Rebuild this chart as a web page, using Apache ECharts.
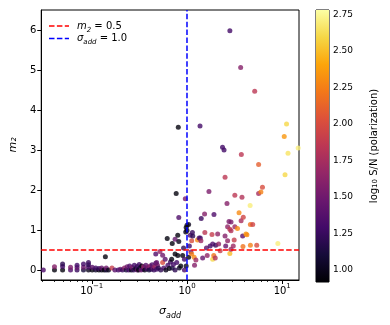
<!DOCTYPE html>
<html>
<head>
<meta charset="utf-8">
<script src="https://cdn.jsdelivr.net/npm/echarts@6/dist/echarts.min.js"></script>
<style>
html, body { margin: 0; padding: 0; background: #fff; }
#main { width: 390px; height: 325px; }
</style>
</head>
<body>
<div id="main"></div>
<script>
// 每个点: [sigma_add, m2, log10 S/N]
var lowPoints = [
    [0.031, 0.0, 1.35],
    [0.0406, 0.0, 0.95], [0.0406, 0.08, 1.6],
    [0.0494, 0.0, 0.95], [0.0494, 0.09, 1.3], [0.0494, 0.15, 1.2],
    [0.0599, 0.0, 1.35], [0.0599, 0.07, 1.55],
    [0.0701, 0.0, 1.25], [0.0701, 0.06, 1.45], [0.0701, 0.12, 1.3],
    [0.0819, 0.0, 1.1], [0.0819, 0.07, 1.5], [0.0819, 0.15, 1.3],
    [0.0924, 0.0, 1.0], [0.0924, 0.07, 1.35], [0.0924, 0.13, 1.2], [0.0924, 0.19, 1.25],
    [0.101, 0.0, 0.95], [0.101, 0.07, 1.4],
    [0.11, 0.0, 1.05], [0.11, 0.05, 1.3],
    [0.119, 0.0, 0.95], [0.119, 0.04, 1.25],
    [0.127, 0.0, 1.0], [0.127, 0.05, 1.45],
    [0.135, 0.0, 0.95], [0.139, 0.33, 0.95],
    [0.142, 0.0, 1.1], [0.142, 0.05, 1.5],
    [0.15, 0.0, 1.0], [0.163, 0.05, 1.9]
];
var midPoints = [
    [0.175, 0.0, 1.4], [0.19, 0.0, 1.3], [0.2, 0.02, 1.45], [0.21, 0.0, 1.25],
    [0.22, 0.05, 1.6], [0.23, 0.0, 1.1], [0.235, 0.08, 1.5], [0.245, 0.0, 1.3],
    [0.25, 0.1, 1.35], [0.26, 0.0, 1.0], [0.265, 0.06, 1.55], [0.275, 0.0, 1.2],
    [0.28, 0.12, 1.3], [0.29, 0.03, 1.0], [0.3, 0.0, 1.45], [0.3, 0.09, 1.25],
    [0.31, 0.0, 0.95], [0.315, 0.14, 1.3], [0.32, 0.05, 1.1], [0.33, 0.0, 1.5],
    [0.335, 0.1, 0.95], [0.345, 0.02, 1.35], [0.35, 0.08, 1.65], [0.36, 0.0, 1.0],
    [0.37, 0.12, 1.4], [0.38, 0.03, 1.3], [0.39, 0.07, 1.55], [0.4, 0.0, 1.1],
    [0.41, 0.1, 1.6], [0.42, 0.02, 1.2], [0.43, 0.13, 1.35], [0.44, 0.05, 1.5],
    [0.45, 0.0, 1.25], [0.46, 0.09, 1.7], [0.47, 0.17, 1.4], [0.48, 0.02, 1.3],
    [0.49, 0.12, 1.55], [0.5, 0.05, 1.2]
];
var nearOnePoints = [
    [0.47, 0.4, 1.35], [0.48, 0.19, 1.45], [0.52, 0.46, 1.65], [0.53, 0.0, 1.2],
    [0.555, 0.37, 1.5], [0.555, 0.19, 2.0], [0.57, 0.05, 1.35], [0.59, 0.27, 1.4],
    [0.6, 0.0, 1.0], [0.62, 0.79, 0.95], [0.63, 0.12, 1.3], [0.65, 0.04, 0.95],
    [0.67, 0.2, 1.25], [0.69, 0.27, 0.95], [0.7, 0.66, 0.95], [0.7, 0.05, 1.1],
    [0.72, 0.14, 1.3], [0.75, 0.4, 0.95], [0.75, 0.77, 1.45], [0.75, 0.0, 1.2],
    [0.77, 1.91, 0.95], [0.78, 0.19, 1.3], [0.8, 0.36, 0.95], [0.8, 0.87, 0.95],
    [0.81, 3.57, 0.95], [0.82, 1.31, 1.35], [0.82, 0.71, 1.0], [0.83, 0.05, 1.05],
    [0.86, 0.1, 0.95], [0.9, 0.36, 0.95], [0.92, 0.55, 1.2], [0.94, 0.27, 1.3],
    [0.94, 0.0, 1.35], [0.96, 1.78, 1.55], [0.97, 0.95, 1.0], [0.98, 1.06, 0.95],
    [0.98, 0.1, 1.0], [1.0, 0.99, 0.95], [1.0, 1.12, 0.97]
];
var highPoints = [
    [1.04, 0.32, 0.95], [1.04, 1.14, 1.0], [1.06, 0.6, 1.3], [1.08, 0.87, 1.35],
    [1.1, 0.45, 1.5], [1.12, 0.73, 2.0], [1.12, 0.4, 2.25], [1.14, 0.94, 1.25],
    [1.15, 0.85, 1.2], [1.19, 0.32, 2.3], [1.2, 0.12, 1.6], [1.24, 0.25, 1.7],
    [1.29, 0.75, 2.3], [1.34, 0.8, 1.35], [1.37, 3.6, 1.3], [1.38, 0.8, 1.3],
    [1.41, 1.29, 1.25], [1.4, 0.73, 1.7], [1.46, 0.3, 1.45], [1.53, 1.4, 1.6],
    [1.54, 0.94, 1.85], [1.6, 0.55, 1.4], [1.63, 0.36, 1.65], [1.7, 1.96, 1.55],
    [1.75, 0.6, 1.3], [1.83, 0.89, 1.9], [1.86, 0.65, 1.35], [1.86, 0.27, 2.6],
    [1.91, 0.36, 2.2], [1.92, 1.39, 1.35], [1.98, 0.3, 1.8], [2.0, 0.62, 1.25],
    [2.1, 0.9, 1.65], [2.15, 0.65, 1.65], [2.23, 0.48, 1.9], [2.36, 3.07, 1.3],
    [2.45, 3.0, 1.3], [2.51, 2.32, 1.85], [2.51, 0.85, 1.6], [2.55, 0.6, 1.45],
    [2.63, 1.66, 1.6], [2.67, 1.08, 1.65], [2.67, 0.73, 1.65], [2.76, 1.21, 1.55],
    [2.82, 5.98, 1.3], [2.82, 1.02, 1.85], [2.82, 0.41, 2.5], [2.9, 1.2, 1.55],
    [2.9, 0.98, 1.8], [2.9, 0.52, 1.7], [3.06, 0.6, 1.7], [3.13, 0.75, 1.9],
    [3.18, 1.87, 1.85], [3.18, 1.08, 1.7], [3.39, 1.04, 2.3], [3.52, 1.43, 2.3],
    [3.66, 5.06, 1.6], [3.7, 1.23, 1.75], [3.72, 2.89, 1.85], [3.78, 1.82, 1.8],
    [3.84, 0.85, 1.4], [3.87, 0.59, 2.2], [3.9, 1.32, 1.95], [4.16, 0.9, 2.35],
    [4.26, 0.88, 2.3], [4.6, 1.61, 2.7], [4.63, 1.14, 2.2], [4.63, 0.62, 2.25],
    [4.9, 1.14, 1.95], [5.14, 4.47, 1.85], [5.4, 0.62, 2.0], [5.65, 2.64, 2.1],
    [5.65, 1.91, 1.75], [5.97, 1.95, 2.25], [6.2, 2.07, 2.0], [9.0, 0.66, 2.7],
    [10.5, 3.34, 2.35], [10.7, 2.38, 2.6], [11.1, 3.65, 2.6], [11.5, 2.92, 2.65],
    [14.7, 3.05, 2.7]
];

var m2Cut = 0.5;
var sigmaCut = 1.0;
var xRange = [0.0295, 15];
var yRange = [-0.25, 6.5];
var cbRange = [0.915, 2.782];
var xTicks = [0.1, 1, 10];
var yTicks = [0, 1, 2, 3, 4, 5, 6];
var cbTicks = [1.0, 1.25, 1.5, 1.75, 2.0, 2.25, 2.5, 2.75];

// inferno
var inferno = ['#000004', '#160b39', '#420a68', '#6a176e', '#932667', '#bc3754',
    '#dd513a', '#f37819', '#fca50a', '#f6d746', '#fcffa4'];

var FONT = 'DejaVu Sans';
// 图例里的虚线
var DASH_ICON = 'path://M0,0h5.5v1.5h-5.5z M7.9,0h5.5v1.5h-5.5z M15.8,0h4.2v1.5h-4.2z';

// 对数轴次刻度 2..9
var xMinorTicks = [];
[0.01, 0.1, 1].forEach(function (d) {
    for (var k = 2; k <= 9; k++) {
        var v = +(d * k).toPrecision(3);
        if (v > xRange[0] && v < xRange[1]) xMinorTicks.push(v);
    }
});

var allPoints = lowPoints.concat(midPoints, nearOnePoints, highPoints);

var chart = echarts.init(document.getElementById('main'));

var option = {
    animation: false,
    textStyle: { fontFamily: FONT },
    grid: [
        { left: 35, top: 10, width: 264, height: 271, show: true, borderColor: '#000', borderWidth: 1, backgroundColor: 'transparent' },
        { left: 316, top: 10, width: 13, height: 272, show: true, borderColor: '#000', borderWidth: 1, backgroundColor: 'transparent' }
    ],
    legend: {
        left: 44, top: 16, orient: 'vertical', itemWidth: 20, itemHeight: 1.5, itemGap: 0,
        data: [{ name: 'm2', icon: DASH_ICON }, { name: 'sigma', icon: DASH_ICON }],
        formatter: function (name) {
            if (name === 'm2') return '{i|m}{sub|2}{t| = 0.5}';
            return '{i|σ}{sub|add}{t| = 1.0}';
        },
        textStyle: {
            fontFamily: FONT, fontSize: 10, color: '#000', padding: [0, 0, 0, 3],
            rich: {
                i: { fontFamily: FONT, fontStyle: 'italic', fontSize: 10, lineHeight: 15 },
                sub: { fontFamily: FONT, fontStyle: 'italic', fontSize: 7, lineHeight: 8, verticalAlign: 'bottom' },
                t: { fontFamily: FONT, fontSize: 10, lineHeight: 15 }
            }
        }
    },
    visualMap: {
        type: 'continuous', show: false, seriesIndex: 0, dimension: 2,
        min: cbRange[0], max: cbRange[1],
        inRange: { color: inferno }
    },
    xAxis: [
        {
            type: 'log', gridIndex: 0, logBase: 10, min: xRange[0], max: xRange[1],
            name: '{i|σ}{sub|add}', nameLocation: 'middle', nameGap: 22,
            nameTextStyle: {
                rich: {
                    i: { fontFamily: FONT, fontStyle: 'italic', fontSize: 11, lineHeight: 18, color: '#000' },
                    sub: { fontFamily: FONT, fontStyle: 'italic', fontSize: 8, lineHeight: 9, verticalAlign: 'bottom', color: '#000' }
                }
            },
            axisLine: { show: true, onZero: false, lineStyle: { color: '#000', width: 1 } },
            axisTick: { show: true, length: 4, customValues: xTicks, lineStyle: { color: '#000' } },
            axisLabel: {
                customValues: xTicks, margin: 3,
                formatter: function (v) {
                    var e = Math.round(Math.log10(v));
                    return '{b|10}{sup|' + (e < 0 ? '\u2212' + (-e) : e) + '}';
                },
                rich: {
                    b: { fontFamily: FONT, fontSize: 10, lineHeight: 16, color: '#000' },
                    sup: { fontFamily: FONT, fontSize: 7, lineHeight: 8, verticalAlign: 'top', color: '#000' }
                }
            },
            splitLine: { show: false }
        },
        {
            type: 'log', gridIndex: 0, logBase: 10, min: xRange[0], max: xRange[1], position: 'bottom',
            axisLine: { show: false, onZero: false },
            axisTick: { show: true, length: 2, customValues: xMinorTicks, lineStyle: { color: '#000', width: 0.8 } },
            axisLabel: { show: false },
            splitLine: { show: false }
        },
        {
            type: 'value', gridIndex: 1, min: 0, max: 1, show: false
        }
    ],
    yAxis: [
        {
            type: 'value', gridIndex: 0, min: yRange[0], max: yRange[1],
            name: 'm\u2082', nameLocation: 'middle', nameGap: 19,
            nameTextStyle: { fontFamily: FONT, fontStyle: 'italic', fontSize: 11, color: '#000' },
            axisLine: { show: true, onZero: false, lineStyle: { color: '#000', width: 1 } },
            axisTick: { show: true, length: 4, customValues: yTicks, lineStyle: { color: '#000' } },
            axisLabel: { customValues: yTicks, fontSize: 10, color: '#000', margin: 5 },
            splitLine: { show: false }
        },
        {
            type: 'value', gridIndex: 1, min: cbRange[0], max: cbRange[1], position: 'right',
            name: 'log{sub|10} S/N (polarization)', nameLocation: 'middle', nameGap: 40, nameRotate: 90,
            nameTextStyle: {
                fontFamily: FONT, fontSize: 10, color: '#000',
                rich: {
                    sub: { fontFamily: FONT, fontSize: 7, lineHeight: 8, verticalAlign: 'bottom', color: '#000' }
                }
            },
            axisLine: { show: false },
            axisTick: { show: true, length: 3, customValues: cbTicks, lineStyle: { color: '#000' } },
            axisLabel: {
                customValues: cbTicks, fontSize: 9, color: '#000', margin: 4,
                formatter: function (v) { return v.toFixed(2); }
            },
            splitLine: { show: false }
        }
    ],
    series: [
        {
            type: 'scatter', xAxisIndex: 0, yAxisIndex: 0, symbolSize: 5,
            data: allPoints, z: 2
        },
        {
            name: 'm2', type: 'line', xAxisIndex: 0, yAxisIndex: 0, symbol: 'none', z: 3,
            data: [[xRange[0], m2Cut], [xRange[1], m2Cut]],
            lineStyle: { color: '#ff0000', width: 1.5, type: [5.5, 2.4] },
            itemStyle: { color: '#ff0000' }
        },
        {
            name: 'sigma', type: 'line', xAxisIndex: 0, yAxisIndex: 0, symbol: 'none', z: 3,
            data: [[sigmaCut, yRange[0]], [sigmaCut, yRange[1]]],
            lineStyle: { color: '#0000ff', width: 1.5, type: [5.5, 2.4] },
            itemStyle: { color: '#0000ff' }
        },
        {
            type: 'custom', xAxisIndex: 2, yAxisIndex: 1, silent: true,
            data: [[0, cbRange[0]]],
            renderItem: function (params, api) {
                var p0 = api.coord([0, cbRange[0]]);
                var p1 = api.coord([1, cbRange[1]]);
                var stops = inferno.map(function (c, i) {
                    return { offset: i / (inferno.length - 1), color: c };
                });
                return {
                    type: 'rect',
                    shape: { x: p0[0], y: p1[1], width: p1[0] - p0[0], height: p0[1] - p1[1] },
                    style: { fill: new echarts.graphic.LinearGradient(0, 1, 0, 0, stops) }
                };
            }
        }
    ]
};

chart.setOption(option);
</script>
</body>
</html>
